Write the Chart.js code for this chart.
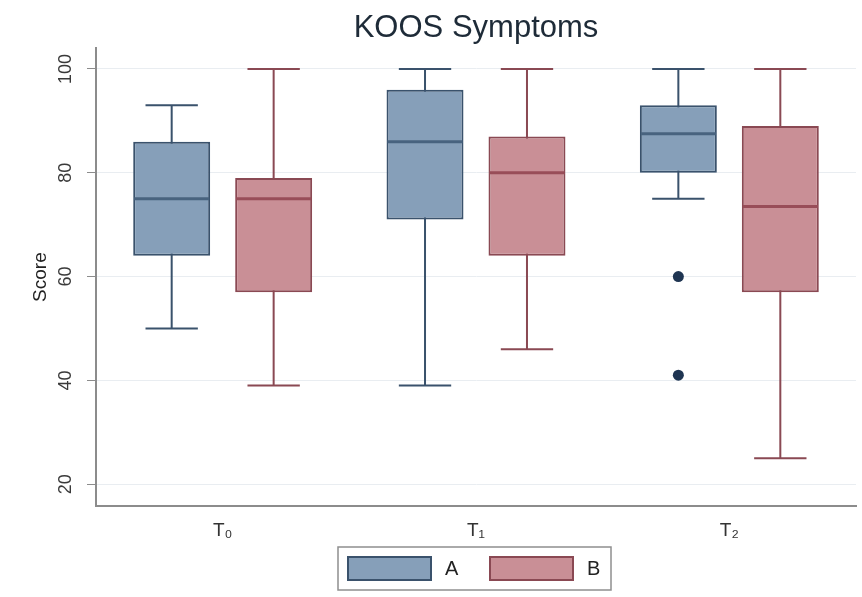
<!DOCTYPE html>
<html>
<head>
<meta charset="utf-8">
<script src="https://cdn.jsdelivr.net/npm/chart.js@4/dist/chart.umd.min.js"></script>
<style>
  html, body { margin: 0; padding: 0; background: #fff; }
</style>
</head>
<body>
<canvas id="boxChart" width="862" height="597"></canvas>
<script>
// categories and groups
const categories = ['T₀', 'T₁', 'T₂'];
const groupNames = ['A', 'B'];

// five-number summaries
const minA = [50, 39, 75];
const q1A = [64, 71, 80];
const medA = [75, 86, 87.5];
const q3A = [86, 96, 93];
const maxA = [93, 100, 100];
const outA = [[], [], [60, 41]];

const minB = [39, 46, 25];
const q1B = [57, 64, 57];
const medB = [75, 80, 73.5];
const q3B = [79, 87, 89];
const maxB = [100, 100, 100];
const outB = [[], [], []];

const yTicks = [20, 40, 60, 80, 100];

const FONT = "'Liberation Sans', Arial, sans-serif";
const fillA = '#869fb9', lineA = '#3a526c', medColA = '#48637f';
const fillB = '#c98f96', lineB = '#8a4953', medColB = '#984d58';

const stats = [
  { min: minA, med: medA, max: maxA, out: outA, line: lineA, med_c: medColA },
  { min: minB, med: medB, max: maxB, out: outB, line: lineB, med_c: medColB }
];

const boxExtras = {
  id: 'boxExtras',
  beforeDatasetsDraw(chart) {
    const ctx = chart.ctx;
    const y = chart.scales.y;
    stats.forEach((s, i) => {
      const meta = chart.getDatasetMeta(i);
      meta.data.forEach((el, j) => {
        const top = y.getPixelForValue(s.max[j]);
        const bot = y.getPixelForValue(s.min[j]);
        const cap = el.width * 0.34;
        ctx.save();
        ctx.strokeStyle = s.line;
        ctx.lineWidth = 2;
        ctx.beginPath();
        ctx.moveTo(el.x, top); ctx.lineTo(el.x, bot);
        ctx.moveTo(el.x - cap, top); ctx.lineTo(el.x + cap, top);
        ctx.moveTo(el.x - cap, bot); ctx.lineTo(el.x + cap, bot);
        ctx.stroke();
        ctx.restore();
      });
    });
  },
  afterDatasetsDraw(chart) {
    const ctx = chart.ctx;
    const y = chart.scales.y;
    stats.forEach((s, i) => {
      const meta = chart.getDatasetMeta(i);
      meta.data.forEach((el, j) => {
        const m = y.getPixelForValue(s.med[j]);
        ctx.save();
        ctx.strokeStyle = s.med_c;
        ctx.lineWidth = 3;
        ctx.beginPath();
        ctx.moveTo(el.x - el.width / 2 + 1, m);
        ctx.lineTo(el.x + el.width / 2 - 1, m);
        ctx.stroke();
        ctx.fillStyle = '#1f3552';
        s.out[j].forEach(v => {
          ctx.beginPath();
          ctx.arc(el.x, y.getPixelForValue(v), 5.5, 0, Math.PI * 2);
          ctx.fill();
        });
        ctx.restore();
      });
    });
  },
  afterDraw(chart) {
    const ctx = chart.ctx;
    const y = chart.scales.y;
    const area = chart.chartArea;

    // vertical tick labels, Stata style
    ctx.save();
    ctx.fillStyle = '#3a3a3a';
    ctx.font = '18px ' + FONT;
    ctx.textAlign = 'center';
    ctx.textBaseline = 'middle';
    y.ticks.forEach(t => {
      ctx.save();
      ctx.translate(66, y.getPixelForValue(t.value));
      ctx.rotate(-Math.PI / 2);
      ctx.fillText(String(t.value), 0, 0);
      ctx.restore();
    });
    // axis title
    ctx.fillStyle = '#222';
    ctx.font = '19px ' + FONT;
    ctx.translate(41, (area.top + area.bottom) / 2);
    ctx.rotate(-Math.PI / 2);
    ctx.fillText('Score', 0, 0);
    ctx.restore();

    // legend with frame
    const cx = (area.left + area.right) / 2;
    const bx = cx - 138, by = 547, bw = 273, bh = 43;
    ctx.save();
    ctx.strokeStyle = '#8f8f8f';
    ctx.lineWidth = 1.5;
    ctx.strokeRect(bx, by, bw, bh);
    const items = [
      { x: bx + 10, ds: chart.data.datasets[0] },
      { x: bx + 152, ds: chart.data.datasets[1] }
    ];
    ctx.font = '20px ' + FONT;
    ctx.textBaseline = 'middle';
    ctx.textAlign = 'left';
    items.forEach(it => {
      ctx.fillStyle = it.ds.backgroundColor;
      ctx.fillRect(it.x, by + 10, 83, 23);
      ctx.strokeStyle = it.ds.borderColor;
      ctx.lineWidth = 2;
      ctx.strokeRect(it.x, by + 10, 83, 23);
      ctx.fillStyle = '#222';
      ctx.fillText(it.ds.label, it.x + 97, by + 22);
    });
    ctx.restore();
  }
};

const ctx = document.getElementById('boxChart').getContext('2d');
Chart.defaults.font.family = FONT;

new Chart(ctx, {
  type: 'bar',
  data: {
    labels: categories,
    datasets: [
      {
        label: groupNames[0],
        data: q1A.map((q, i) => [q, q3A[i]]),
        backgroundColor: fillA,
        borderColor: lineA,
        borderWidth: 2,
        borderSkipped: false,
        categoryPercentage: 0.805,
        barPercentage: 0.755
      },
      {
        label: groupNames[1],
        data: q1B.map((q, i) => [q, q3B[i]]),
        backgroundColor: fillB,
        borderColor: lineB,
        borderWidth: 2,
        borderSkipped: false,
        categoryPercentage: 0.805,
        barPercentage: 0.755
      }
    ]
  },
  options: {
    responsive: false,
    animation: false,
    devicePixelRatio: 1,
    layout: { padding: { left: 0, right: 6, top: 0, bottom: 51 } },
    scales: {
      x: {
        offset: true,
        grid: { display: false, drawTicks: false },
        border: { color: '#8c8c8c', width: 2 },
        ticks: { color: '#333', font: { size: 19 }, padding: 13 },
        afterFit: s => { s.height = 40; }
      },
      y: {
        min: 15.8,
        max: 104,
        afterBuildTicks: s => { s.ticks = yTicks.map(v => ({ value: v })); },
        afterFit: s => { s.width = 96; },
        ticks: { display: false },
        grid: { color: '#e9edf1', lineWidth: 1, tickLength: 9, tickColor: '#8c8c8c' },
        border: { color: '#8c8c8c', width: 2 }
      }
    },
    plugins: {
      legend: { display: false },
      tooltip: { enabled: false },
      title: {
        display: true,
        text: 'KOOS Symptoms',
        fullSize: false,
        color: '#1e2b38',
        font: { size: 31, weight: 'normal' },
        padding: { top: 10, bottom: 1 }
      }
    }
  },
  plugins: [boxExtras]
});
</script>
</body>
</html>
